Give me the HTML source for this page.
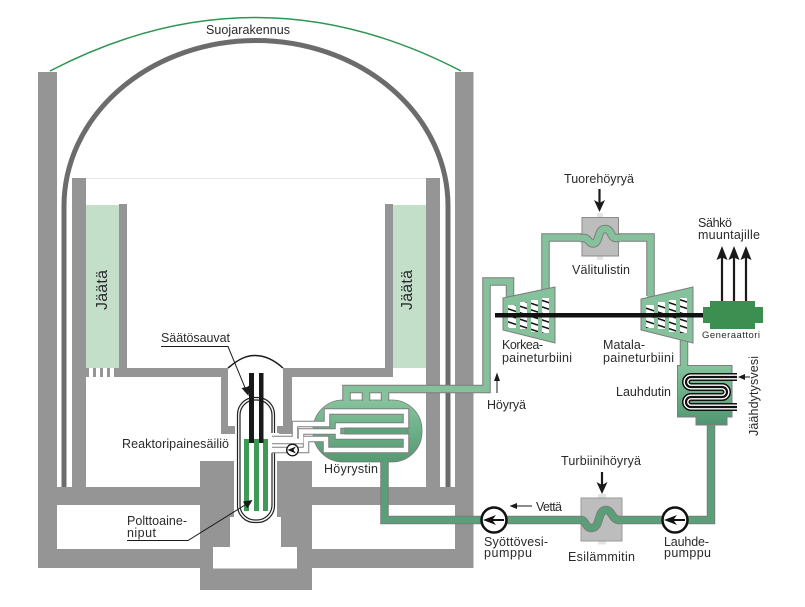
<!DOCTYPE html>
<html><head><meta charset="utf-8"><style>
html,body{margin:0;padding:0;background:#fff}
svg{display:block}
text{font-family:"Liberation Sans",sans-serif;font-size:12.5px;fill:#2a2a2a}
</style></head><body>
<svg width="805" height="607" viewBox="0 0 805 607" xmlns="http://www.w3.org/2000/svg">
<defs>
<linearGradient id="sg" x1="0" y1="0" x2="0" y2="1"><stop offset="0" stop-color="#85c49c"/><stop offset="1" stop-color="#559a72"/></linearGradient>
<linearGradient id="cd" x1="0" y1="0" x2="0" y2="1"><stop offset="0" stop-color="#85c49c"/><stop offset="1" stop-color="#4f9670"/></linearGradient>
<pattern id="bl" width="8" height="6.5" patternUnits="userSpaceOnUse" patternTransform="skewY(18)">
<rect width="8" height="6.5" fill="#fff"/><rect y="0" width="8" height="1.6" fill="#111"/></pattern>
</defs>
<!-- building -->
<g fill="#959595">
<rect x="38" y="72" width="19" height="496"/>
<rect x="455" y="72" width="18.5" height="496"/>
<rect x="38" y="487" width="435" height="18"/>
<rect x="38" y="549" width="435" height="19"/>
<rect x="200" y="461" width="112" height="129"/>
<rect x="72" y="178" width="14" height="310"/>
<rect x="426" y="178" width="14" height="310"/>
<rect x="119" y="204" width="8" height="170"/>
<rect x="385" y="204" width="8" height="170"/>
<rect x="86" y="368" width="142" height="9"/>
<rect x="283" y="368" width="110" height="9"/>
<rect x="221" y="368" width="7" height="66"/>
<rect x="221" y="426" width="14" height="8"/>
<rect x="283" y="368" width="9" height="66"/>
<rect x="277" y="426" width="15" height="8"/>
<rect x="426" y="368" width="2" height="9"/>
</g>
<rect x="86" y="178" width="340" height="1" fill="#e3e7e7"/>
<path d="M234 461H277V517H281V547H297V568.500H213V547H230V517H234Z" fill="#fff"/>
<!-- pools -->
<rect x="86" y="205" width="33" height="163" fill="#c3dfca"/>
<rect x="393" y="205" width="33" height="163" fill="#c3dfca"/>
<g fill="#fff">
<rect x="89" y="368" width="4" height="9"/><rect x="96" y="368" width="4" height="9"/><rect x="103" y="368" width="4" height="9"/><rect x="110" y="368" width="4" height="9"/>
<rect x="397" y="368" width="4" height="9"/><rect x="404" y="368" width="4" height="9"/><rect x="411" y="368" width="4" height="9"/><rect x="418" y="368" width="4" height="9"/>
</g>
<!-- containment -->
<path d="M64 487V206A192 165.500 0 0 1 448 206V487" fill="none" stroke="#6c6c6c" stroke-width="5"/>
<path d="M50 71Q255 -36 461 71" fill="none" stroke="#2e9650" stroke-width="1.500"/>
<!-- head -->
<path d="M228 368C240 358 247 355.500 255 355.500C264 355.500 273 359 283 368" fill="none" stroke="#1a1a1a" stroke-width="1.500"/>
<!-- vessel -->
<rect x="237.500" y="397.500" width="37" height="125" rx="17" fill="#fff" stroke="#222" stroke-width="1.200"/>
<rect x="240" y="400" width="32" height="120" rx="15" fill="#fff" stroke="#222" stroke-width="1.200"/>
<g fill="#3f9a57"><rect x="244" y="439" width="5" height="72"/><rect x="254" y="439" width="5" height="72"/><rect x="263" y="439" width="5" height="72"/></g>
<g fill="#191919"><rect x="249" y="373" width="5" height="70"/><rect x="259" y="373" width="4.500" height="70"/></g>
<!-- steam generator -->
<rect x="313" y="400" width="109" height="62" rx="30" fill="url(#sg)" stroke="#7c7c7c" stroke-width="0.800"/>
<rect x="271" y="433" width="8" height="20" fill="#fff"/>
<g fill="none" stroke-linejoin="miter">
<g stroke="#7d7d7d" stroke-width="6.500">
<path d="M272 439H295V424H327V411.500H406V425.500H338V436.500H406V450H326V439H306V450H272"/>
<path d="M272 441H301V431.500H338"/>
</g>
<g stroke="#fff" stroke-width="4.500">
<path d="M272 439H295V424H327V411.500H406V425.500H338V436.500H406V450H326V439H306V450H272"/>
<path d="M272 441H301V431.500H338"/>
</g>
</g>
<rect x="345" y="428" width="63" height="6" fill="#5fa37c" stroke="#7d7d7d" stroke-width="1"/>
<circle cx="292.500" cy="450" r="5.800" fill="#fff" stroke="#111" stroke-width="1.300"/>
<path d="M287.500 450L296 446.500L293.500 450L296 453.500Z" fill="#111"/>
<!-- steam pipes -->
<g fill="none">
<g stroke="#7d7d7d" stroke-width="8.500">
<path d="M346.500 401V389H486.500V281.500H510V300"/>
<path d="M366 389V401M385 389V401"/>
<path d="M545.500 292V237.500H650.500V296"/>
<path d="M684 340V366"/>
</g>
<g stroke="#85c29c" stroke-width="6.500">
<path d="M346.500 402V389H486.500V281.500H510V302"/>
<path d="M366 389V402M385 389V402"/>
<path d="M545.500 294V237.500H650.500V298"/>
<path d="M684 340V367"/>
</g>
</g>
<!-- turbines -->
<polygon points="503,298 555,287 555,343 503,330" fill="#85c29c" stroke="#7d7d7d" stroke-width="1"/>
<polygon points="641,299 693,287 693,343 641,330" fill="#85c29c" stroke="#7d7d7d" stroke-width="1"/>
<g fill="url(#bl)">
<rect x="508" y="305" width="8" height="23"/><rect x="520" y="302" width="7" height="27"/><rect x="531" y="300" width="7" height="32"/><rect x="542" y="298" width="7" height="35"/>
<rect x="646" y="305" width="8" height="23"/><rect x="658" y="302" width="7" height="27"/><rect x="669" y="300" width="7" height="32"/><rect x="680" y="298" width="7" height="35"/>
</g>
<rect x="495" y="313" width="208" height="4.500" fill="#111"/>
<!-- generator -->
<path d="M710 301H755V307H763V323H755V329H710V323H703V307H710Z" fill="#3c8f50"/>
<g stroke="#1a1a1a" stroke-width="2.200"><path d="M722 301V255M734 301V255M746 301V255"/></g>
<g fill="#1a1a1a">
<path d="M722 246L727.500 260L722 257.500L716.500 260Z"/><path d="M734 246L739.500 260L734 257.500L728.500 260Z"/><path d="M746 246L751.500 260L746 257.500L740.500 260Z"/>
</g>
<!-- reheater -->
<rect x="597" y="213" width="6" height="5" fill="#e4e4e4"/><rect x="597" y="256" width="6" height="4" fill="#e4e4e4"/>
<rect x="582" y="217.500" width="36.500" height="38.500" fill="#bdbdbd" stroke="#8a8a8a" stroke-width="1"/>
<g fill="none">
<path d="M580 238H584C589 238 588 243.500 593 243.500C600 243.500 597 229 605 229C612 229 610 238 616 238H620" stroke="#7d7d7d" stroke-width="8.500"/>
<path d="M580 238H584C589 238 588 243.500 593 243.500C600 243.500 597 229 605 229C612 229 610 238 616 238H621" stroke="#85c29c" stroke-width="6.500"/>
</g>
<!-- condenser -->
<path d="M677.500 365.500H732V417H727V425H696V417H677.500Z" fill="url(#cd)" stroke="#7d7d7d" stroke-width="1"/>
<rect x="681" y="362" width="6" height="6" fill="#85c29c"/>
<g fill="none">
<path d="M737 377H691A5 5 0 0 0 691 387H722A5 5 0 0 1 722 397H691A5 5 0 0 0 691 407H737" stroke="#111" stroke-width="8"/>
<path d="M737 377H691A5 5 0 0 0 691 387H722A5 5 0 0 1 722 397H691A5 5 0 0 0 691 407H737" stroke="#fff" stroke-width="5"/>
<path d="M737 377H691A5 5 0 0 0 691 387H722A5 5 0 0 1 722 397H691A5 5 0 0 0 691 407H737" stroke="#111" stroke-width="2.200"/>
</g>
<!-- feedwater -->
<rect x="598" y="494" width="8" height="4.500" fill="#e4e4e4"/><rect x="598" y="541" width="8" height="3.500" fill="#e4e4e4"/>
<rect x="581" y="498" width="41" height="43" fill="#bdbdbd" stroke="#9a9a9a" stroke-width="1"/>
<g fill="none">
<path d="M711 424V520H619C612 520 612 510 606 510C597 510 601 528 591.500 528C585 528 586 520 581 520H384.500V461" stroke="#7d7d7d" stroke-width="8.500"/>
<path d="M711 425V520H619C612 520 612 510 606 510C597 510 601 528 591.500 528C585 528 586 520 581 520H384.500V460" stroke="#5a9f77" stroke-width="6.500"/>
</g>
<circle cx="494" cy="520" r="12.500" fill="#fff" stroke="#111" stroke-width="2.500"/>
<path d="M483 520L496 515L493 519H504V521H493L496 525Z" fill="#111"/>
<circle cx="675" cy="520" r="12.500" fill="#fff" stroke="#111" stroke-width="2.500"/>
<path d="M664 520L677 515L674 519H685V521H674L677 525Z" fill="#111"/>
<!-- arrows -->
<g stroke="#1a1a1a" fill="none" stroke-width="1">
<path d="M161 346.500H228L246 390"/>
<path d="M127 540.500H188L245 505"/>
</g>
<path d="M248.500 396L241.500 388L247 387L250 385Z" fill="#1a1a1a"/>
<path d="M252.500 500L243 501.500L245 505L247.500 508.500Z" fill="#1a1a1a"/>
<g stroke="#1a1a1a" stroke-width="2.200"><path d="M599.500 189V205M602 472V488"/></g>
<path d="M599.500 212L594 200L599.500 203L605 200Z" fill="#1a1a1a"/>
<path d="M602 494L596.500 482L602 485L607.500 482Z" fill="#1a1a1a"/>
<g stroke="#1a1a1a" stroke-width="1"><path d="M497 393V378M532 506H514M750 377H742"/></g>
<path d="M497 372.500L494 381H500Z" fill="#1a1a1a"/>
<path d="M509.500 506L517 503V509Z" fill="#1a1a1a"/>
<path d="M738 377L745 374V380Z" fill="#1a1a1a"/>
<!-- labels -->
<text x="206" y="34" textLength="84" lengthAdjust="spacing">Suojarakennus</text>
<text transform="translate(107 310) rotate(-90)" textLength="40" lengthAdjust="spacing" style="font-size:16px">Jäätä</text>
<text transform="translate(412 310) rotate(-90)" textLength="40" lengthAdjust="spacing" style="font-size:16px">Jäätä</text>
<text x="161" y="342" textLength="69" lengthAdjust="spacing">Säätösauvat</text>
<text x="122" y="448" textLength="107" lengthAdjust="spacing">Reaktoripainesäiliö</text>
<text x="127" y="525" textLength="60" lengthAdjust="spacing">Polttoaine-</text>
<text x="127" y="537" textLength="29" lengthAdjust="spacing">niput</text>
<text x="324" y="473" textLength="54" lengthAdjust="spacing">Höyrystin</text>
<text x="487" y="409" textLength="39" lengthAdjust="spacing">Höyryä</text>
<text x="502" y="349" textLength="41" lengthAdjust="spacing">Korkea-</text>
<text x="502" y="362" textLength="70" lengthAdjust="spacing">paineturbiini</text>
<text x="603" y="349" textLength="42" lengthAdjust="spacing">Matala-</text>
<text x="603" y="362" textLength="71" lengthAdjust="spacing">paineturbiini</text>
<text x="564" y="183" textLength="70" lengthAdjust="spacing">Tuorehöyryä</text>
<text x="572" y="274" textLength="58" lengthAdjust="spacing">Välitulistin</text>
<text x="698" y="227" textLength="34" lengthAdjust="spacing">Sähkö</text>
<text x="698" y="239" textLength="62" lengthAdjust="spacing">muuntajille</text>
<text x="702" y="338" textLength="58" lengthAdjust="spacing" style="font-size:9.500px">Generaattori</text>
<text x="616" y="396" textLength="55" lengthAdjust="spacing">Lauhdutin</text>
<text transform="translate(758 436) rotate(-90)" textLength="80" lengthAdjust="spacing">Jäähdytysvesi</text>
<text x="561" y="465" textLength="80" lengthAdjust="spacing">Turbiinihöyryä</text>
<text x="536" y="511" textLength="26" lengthAdjust="spacing">Vettä</text>
<text x="484" y="546" textLength="64" lengthAdjust="spacing">Syöttövesi-</text>
<text x="484" y="557" textLength="48" lengthAdjust="spacing">pumppu</text>
<text x="568" y="561" textLength="67" lengthAdjust="spacing">Esilämmitin</text>
<text x="664" y="546" textLength="45" lengthAdjust="spacing">Lauhde-</text>
<text x="664" y="557" textLength="47" lengthAdjust="spacing">pumppu</text>
</svg>
</body></html>
